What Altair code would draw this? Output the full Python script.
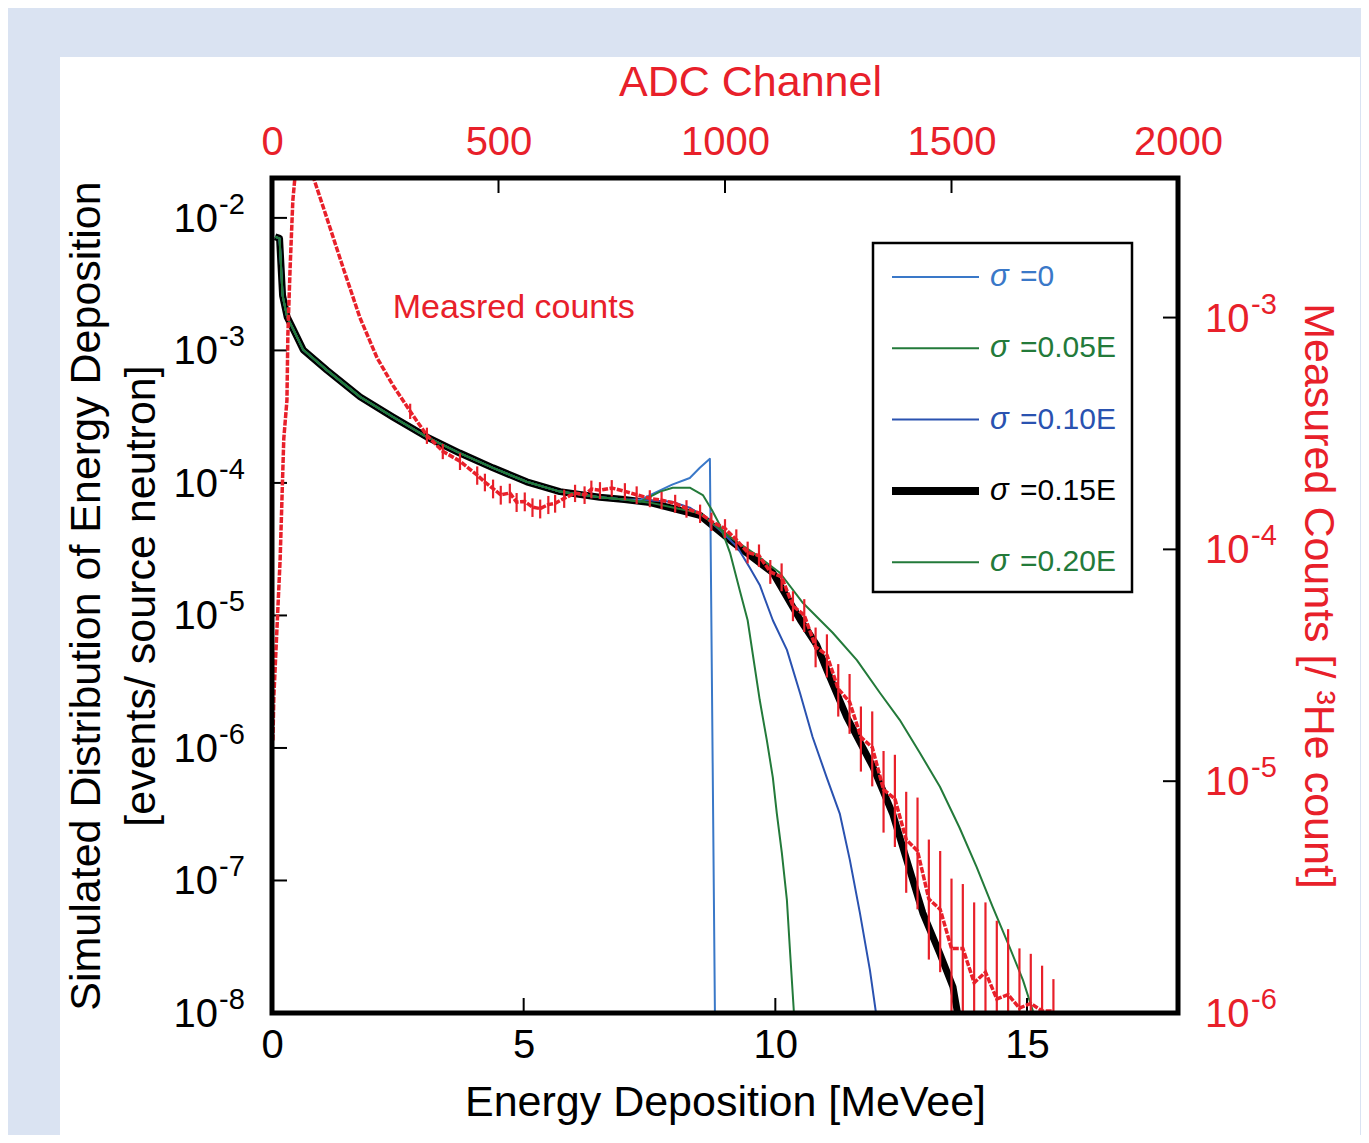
import altair as alt
import pandas as pd

FONT = "Liberation Sans"
RED = "#e8202a"

# ---------------- simulated spectra (bottom / left axes) ----------------
# shared low-energy part of all simulated curves  (MeVee , events/source neutron)
head_E = [0.06, 0.15, 0.21, 0.30, 0.42, 0.62, 1.09, 1.75, 2.40, 3.08, 3.73, 4.39, 5.06, 5.72, 6.51, 7.00]
head_v = [7.2e-3, 7.0e-3, 2.6e-3, 1.79e-3, 1.45e-3, 1.01e-3, 7.1e-4, 4.46e-4, 3.15e-4, 2.22e-4,
          1.68e-4, 1.30e-4, 1.02e-4, 8.6e-5, 7.8e-5, 7.5e-5]

s000_E = [7.31, 7.95, 8.30, 8.50, 8.70, 8.80]
s000_v = [7.45e-5, 9.7e-5, 1.09e-4, 1.30e-4, 1.52e-4, 1.0e-8]

s005_E = [7.31, 7.71, 7.96, 8.30, 8.56, 8.74, 8.90, 9.10, 9.29, 9.45, 9.69, 9.83, 9.95, 10.03, 10.13, 10.23, 10.29, 10.37]
s005_v = [7.2e-5, 8.6e-5, 9.2e-5, 9.2e-5, 8.1e-5, 6.25e-5, 4.8e-5, 2.97e-5, 1.56e-5, 9.2e-6, 2.3e-6, 1.15e-6,
          6.0e-7, 3.2e-7, 1.61e-7, 7.1e-8, 3.0e-8, 1.0e-8]

s010_E = [7.31, 7.96, 8.30, 8.64, 8.90, 9.24, 9.49, 9.69, 9.95, 10.23, 10.49, 10.74, 11.02, 11.28, 11.48, 11.68, 11.88, 12.00]
s010_v = [7.45e-5, 7.2e-5, 6.5e-5, 5.4e-5, 4.4e-5, 3.3e-5, 2.3e-5, 1.7e-5, 9.2e-6, 5.5e-6, 2.6e-6, 1.21e-6,
          6.0e-7, 3.2e-7, 1.43e-7, 5.7e-8, 2.1e-8, 1.0e-8]

s015_E = [7.51, 8.50, 9.10, 9.95, 10.50, 10.82, 11.02, 11.42, 11.94, 12.33, 12.61, 12.93, 13.27, 13.53, 13.62]
s015_v = [7.1e-5, 5.7e-5, 3.7e-5, 2.1e-5, 9.2e-6, 6.0e-6, 3.9e-6, 1.71e-6, 7.2e-7, 3.2e-7, 1.43e-7, 5.7e-8,
          2.8e-8, 1.57e-8, 1.0e-8]

s020_E = [7.51, 8.50, 9.10, 9.60, 10.09, 10.55, 11.14, 11.62, 12.08, 12.47, 12.87, 13.27, 13.66, 14.00, 14.32, 14.66, 14.92, 15.13]
s020_v = [7.1e-5, 5.9e-5, 3.9e-5, 2.9e-5, 2.1e-5, 1.24e-5, 7.4e-6, 4.6e-6, 2.6e-6, 1.63e-6, 9.2e-7, 5.1e-7,
          2.5e-7, 1.26e-7, 6.3e-8, 3.1e-8, 1.77e-8, 1.0e-8]

series_labels = ["σ =0", "σ =0.05E", "σ =0.10E", "σ =0.15E", "σ =0.20E"]
series_colors = ["#3a78c8", "#237a3a", "#2a52b0", "#000000", "#237a3a"]
series_widths = [2, 2, 2, 7, 2]
series_tails = [(s000_E, s000_v), (s005_E, s005_v), (s010_E, s010_v), (s015_E, s015_v), (s020_E, s020_v)]
draw_order = [3, 2, 0, 4, 1]

# ---------------- measured counts (top / right axes) ----------------
adc_rise = [2, 4, 18, 26, 33, 35, 40, 46, 51, 65, 80, 90, 121, 157, 194, 232, 267]
m_rise = [1.5e-5, 2.3e-5, 9.1e-5, 3.0e-4, 4.4e-4, 8.4e-4, 1.64e-3, 3.2e-3, 4.1e-3, 7.0e-3, 6.0e-3, 4.1e-3,
          2.69e-3, 1.64e-3, 1.0e-3, 6.7e-4, 5.1e-4]
adc_mid = [305, 342, 377, 415, 453, 470, 488, 505, 525, 540, 558, 575, 592, 610, 625, 645, 669, 690, 705,
           724, 750, 779, 805, 834, 860, 890, 915, 945, 970]
m_mid = [3.94e-4, 3.1e-4, 2.65e-4, 2.4e-4, 2.09e-4, 1.95e-4, 1.83e-4, 1.72e-4, 1.75e-4, 1.6e-4, 1.61e-4,
         1.52e-4, 1.5e-4, 1.56e-4, 1.58e-4, 1.66e-4, 1.75e-4, 1.72e-4, 1.82e-4, 1.8e-4, 1.84e-4, 1.78e-4,
         1.72e-4, 1.66e-4, 1.63e-4, 1.58e-4, 1.5e-4, 1.43e-4, 1.32e-4]
m_mid_lo = [3.65e-4, 2.85e-4, 2.45e-4, 2.2e-4, 1.9e-4, 1.78e-4, 1.66e-4, 1.56e-4, 1.58e-4, 1.45e-4, 1.46e-4,
            1.38e-4, 1.36e-4, 1.42e-4, 1.44e-4, 1.51e-4, 1.6e-4, 1.57e-4, 1.66e-4, 1.65e-4, 1.69e-4, 1.63e-4,
            1.57e-4, 1.52e-4, 1.49e-4, 1.44e-4, 1.37e-4, 1.3e-4, 1.2e-4]
m_mid_hi = [4.25e-4, 3.35e-4, 2.85e-4, 2.6e-4, 2.28e-4, 2.12e-4, 2.0e-4, 1.88e-4, 1.92e-4, 1.75e-4, 1.76e-4,
            1.66e-4, 1.64e-4, 1.7e-4, 1.72e-4, 1.81e-4, 1.9e-4, 1.87e-4, 1.98e-4, 1.95e-4, 1.99e-4, 1.93e-4,
            1.87e-4, 1.8e-4, 1.77e-4, 1.72e-4, 1.63e-4, 1.56e-4, 1.44e-4]
adc_tail = [1000, 1025, 1050, 1075, 1100, 1125, 1150, 1175, 1200, 1225, 1250, 1275, 1300, 1325, 1350, 1375,
            1400, 1425, 1450, 1475, 1500, 1525, 1550, 1575, 1600, 1625, 1650, 1675, 1700, 1725]
m_tail = [1.23e-4, 1.10e-4, 9.7e-5, 9.4e-5, 8.0e-5, 7.6e-5, 5.7e-5, 5.2e-5, 3.8e-5, 3.5e-5, 2.5e-5, 2.2e-5,
          1.55e-5, 1.40e-5, 9.2e-6, 8.4e-6, 5.6e-6, 5.0e-6, 3.1e-6, 2.8e-6, 1.9e-6, 1.9e-6, 1.35e-6, 1.5e-6,
          1.15e-6, 1.2e-6, 1.05e-6, 1.1e-6, 1.02e-6, 1.02e-6]
m_tail_lo = [1.12e-4, 9.9e-5, 8.7e-5, 8.4e-5, 7.1e-5, 6.6e-5, 4.9e-5, 4.4e-5, 3.1e-5, 2.8e-5, 1.9e-5, 1.6e-5,
             1.1e-5, 9.5e-6, 6.0e-6, 5.2e-6, 3.3e-6, 2.8e-6, 1.7e-6, 1.5e-6, 1.0e-6, 1.0e-6, 0.9e-6, 0.9e-6,
             0.9e-6, 0.9e-6, 0.9e-6, 0.9e-6, 0.9e-6, 0.9e-6]
m_tail_hi = [1.35e-4, 1.22e-4, 1.08e-4, 1.05e-4, 9.0e-5, 8.7e-5, 6.6e-5, 6.1e-5, 4.6e-5, 4.3e-5, 3.2e-5, 2.9e-5,
             2.1e-5, 2.0e-5, 1.35e-5, 1.3e-5, 9.0e-6, 8.5e-6, 5.6e-6, 5.0e-6, 3.8e-6, 3.6e-6, 3.0e-6, 3.0e-6,
             2.5e-6, 2.3e-6, 1.9e-6, 1.8e-6, 1.6e-6, 1.4e-6]

# ---------------- axes ticks / labels ----------------
E_ticks = [0, 5, 10, 15]
adc_ticks = [0, 500, 1000, 1500, 2000]
left_ticks = [1e-8, 1e-7, 1e-6, 1e-5, 1e-4, 1e-3, 1e-2]
left_exp = ["-8", "-7", "-6", "-5", "-4", "-3", "-2"]
right_ticks = [1e-6, 1e-5, 1e-4, 1e-3]
right_exp = ["-6", "-5", "-4", "-3"]

W, H = 906, 835
TICK = 15

ax_bottom = alt.Axis(orient="bottom", values=E_ticks, format="d", title="Energy Deposition [MeVee]",
                     ticks=False, domain=False, grid=False, labelFontSize=40, labelPadding=12,
                     labelFlush=False, titleFontSize=43, titleFontWeight="normal", titlePadding=16,
                     labelColor="black", titleColor="black", zindex=1)
ax_left = alt.Axis(orient="left", values=left_ticks, labels=False,
                   title=["Simulated Distribution of Energy Deposition", "[events/ source neutron]"],
                   ticks=False, domain=False, grid=False, titleFontSize=43, titleFontWeight="normal",
                   titlePadding=109, titleLineHeight=55, titleColor="black", zindex=1)
ax_top = alt.Axis(orient="top", values=adc_ticks, format="d", title="ADC Channel", ticks=False,
                  domain=False, grid=False, labelFontSize=40, labelPadding=16, labelFlush=False,
                  titleFontSize=43, titleFontWeight="normal", titlePadding=18, labelColor=RED,
                  titleColor=RED, titleX=478, zindex=1)
ax_right = alt.Axis(orient="right", values=right_ticks, labels=False,
                    title="Measured Counts [/ ³He count]", ticks=False, domain=False, grid=False,
                    titleFontSize=43, titleFontWeight="normal", titlePadding=117, titleColor=RED, zindex=1)

xE = alt.X("E:Q", scale=alt.Scale(domain=[0, 18], nice=False, zero=False), axis=ax_bottom)
yV = alt.Y("v:Q", scale=alt.Scale(type="log", domain=[1e-8, 2e-2], nice=False), axis=ax_left)
xA = alt.X("adc:Q", scale=alt.Scale(domain=[0, 2000], nice=False, zero=False), axis=ax_top)
yM = alt.Y("m:Q", scale=alt.Scale(type="log", domain=[1e-6, 4e-3], nice=False), axis=ax_right)

# ---------------- simulated layer ----------------
sim_layers = []
for i in draw_order:
    tE, tv = series_tails[i]
    df = pd.DataFrame({"E": head_E + tE, "v": head_v + tv})
    sim_layers.append(
        alt.Chart(df).mark_line(color=series_colors[i], strokeWidth=series_widths[i],
                                strokeJoin="round", clip=True).encode(x=xE, y=yV)
    )
left_lab_df = pd.DataFrame({"v": left_ticks, "exp": left_exp, "base": ["10"] * len(left_ticks)})
sim_layers += [
    alt.Chart(left_lab_df).mark_rule(color="black", strokeWidth=2)
    .encode(y=yV, x=alt.value(0), x2=alt.value(TICK)),
    alt.Chart(left_lab_df).mark_text(align="right", baseline="middle", fontSize=40, color="black", dy=2)
    .encode(y=yV, x=alt.value(-54), text="base:N"),
    alt.Chart(left_lab_df).mark_text(align="left", baseline="middle", fontSize=29, color="black", dy=-13)
    .encode(y=yV, x=alt.value(-53), text="exp:N"),
    alt.Chart(pd.DataFrame({"E": E_ticks})).mark_rule(color="black", strokeWidth=2)
    .encode(x=xE, y=alt.value(H - TICK), y2=alt.value(H)),
    alt.Chart(pd.DataFrame({"E": [2.40], "v": [2.1e-3], "t": ["Measred counts"]}))
    .mark_text(align="left", baseline="middle", fontSize=34, color=RED)
    .encode(x=xE, y=yV, text="t:N"),
]
sim = alt.layer(*sim_layers)

# ---------------- measured layer ----------------
meas_df = pd.DataFrame({"adc": adc_rise + adc_mid + adc_tail, "m": m_rise + m_mid + m_tail})
err_df = pd.DataFrame({"adc": adc_mid + adc_tail, "m": m_mid_lo + m_tail_lo, "m2": m_mid_hi + m_tail_hi})
right_lab_df = pd.DataFrame({"m": right_ticks, "exp": right_exp, "base": ["10"] * len(right_ticks)})
meas = alt.layer(
    alt.Chart(err_df).mark_rule(color=RED, strokeWidth=2.2, clip=True).encode(x=xA, y=yM, y2="m2:Q"),
    alt.Chart(meas_df).mark_line(color=RED, strokeWidth=3.5, strokeDash=[6, 1.5], clip=True).encode(x=xA, y=yM),
    alt.Chart(right_lab_df).mark_rule(color="black", strokeWidth=2)
    .encode(y=yM, x=alt.value(W - TICK), x2=alt.value(W)),
    alt.Chart(right_lab_df).mark_text(align="left", baseline="middle", fontSize=40, color=RED, dy=2)
    .encode(y=yM, x=alt.value(933), text="base:N"),
    alt.Chart(right_lab_df).mark_text(align="left", baseline="middle", fontSize=29, color=RED, dy=-13)
    .encode(y=yM, x=alt.value(979), text="exp:N"),
    alt.Chart(pd.DataFrame({"adc": adc_ticks})).mark_rule(color="black", strokeWidth=2)
    .encode(x=xA, y=alt.value(0), y2=alt.value(TICK)),
)

# ---------------- decorations: panel, legend, frame ----------------
one = pd.DataFrame({"k": [0]})
panel = alt.Chart(one).mark_rect(fill="white").encode(
    x=alt.value(-212), x2=alt.value(1088), y=alt.value(-121), y2=alt.value(960))

legend_layers = [
    alt.Chart(one).mark_rect(fill="white", stroke="black", strokeWidth=2.5).encode(
        x=alt.value(601), x2=alt.value(860), y=alt.value(65), y2=alt.value(414))
]
for i, lab in enumerate(series_labels):
    y0 = 99 + 71.3 * i
    sym, rest = lab.split(" ")
    df = pd.DataFrame({"sym": [sym], "rest": [rest]})
    col = series_colors[i]
    legend_layers.append(alt.Chart(df).mark_rule(color=col, strokeWidth=series_widths[i] + (1 if i == 3 else 0))
                         .encode(x=alt.value(620), x2=alt.value(707), y=alt.value(y0)))
    legend_layers.append(alt.Chart(df).mark_text(align="left", baseline="middle", fontSize=31,
                                                 fontStyle="italic", color=col)
                         .encode(x=alt.value(718), y=alt.value(y0), text="sym:N"))
    legend_layers.append(alt.Chart(df).mark_text(align="left", baseline="middle", fontSize=30, color=col)
                         .encode(x=alt.value(748), y=alt.value(y0), text="rest:N"))

frame = alt.Chart(one).mark_rect(fillOpacity=0, stroke="black", strokeWidth=5).encode(
    x=alt.value(0), x2=alt.value(W), y=alt.value(0), y2=alt.value(H))

chart = (
    alt.layer(panel, sim, meas, *legend_layers, frame)
    .resolve_scale(x="independent", y="independent")
    .properties(width=W, height=H, background="#dae3f2",
                padding={"left": 264, "top": 170, "right": 183, "bottom": 122},
                autosize=alt.AutoSizeParams(type="none"))
    .configure(font=FONT)
    .configure_view(strokeWidth=0)
)

chart.save("out.html", embed_options={"renderer": "svg", "actions": False})
